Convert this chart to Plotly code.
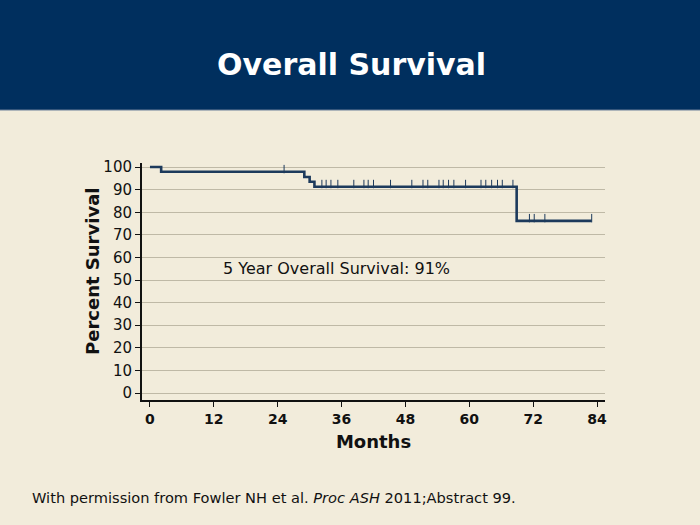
import plotly.graph_objects as go

# Kaplan-Meier step data (months, percent survival)
step_months = [0, 2.1, 29.0, 30.0, 30.9, 68.9, 83.0]
step_surv = [100, 97.9, 95.6, 93.5, 91.3, 76.2, 76.2]

# censor marks
censor_months = [25.2, 32.3, 33.1, 34.0, 35.3, 38.3, 40.2, 41.0, 42.0, 45.2,
                 49.2, 51.3, 52.2, 54.3, 55.1, 56.1, 57.1, 59.3, 62.2, 63.1,
                 64.2, 65.3, 66.2, 68.2, 71.3, 72.2, 74.2, 83.0]
censor_surv = [97.9] + [91.3] * 23 + [76.2] * 4

x_ticks = [0, 12, 24, 36, 48, 60, 72, 84]
y_ticks = [0, 10, 20, 30, 40, 50, 60, 70, 80, 90, 100]

NAVY = "#1d3a5c"
BG = "#f2ecdb"
FONT = "Verdana, DejaVu Sans, sans-serif"

L, R, T, B = 142, 95, 163, 125
PW, PH = 700 - L - R, 525 - T - B


def px_x(px):
    return (px - L) / PW


def px_y(py):
    return (525 - B - py) / PH


fig = go.Figure()
fig.add_trace(go.Scatter(
    x=step_months, y=step_surv, mode="lines",
    line=dict(color=NAVY, width=2.6, shape="hv"),
    hoverinfo="skip", showlegend=False))
fig.add_trace(go.Scatter(
    x=censor_months, y=[v + 1.2 for v in censor_surv], mode="markers",
    marker=dict(symbol="line-ns", size=6, line=dict(color=NAVY, width=1)),
    hoverinfo="skip", showlegend=False))

fig.update_layout(
    width=700, height=525,
    margin=dict(l=L, r=R, t=T, b=B),
    paper_bgcolor=BG, plot_bgcolor=BG,
    font=dict(family=FONT, color="#111111"),
    xaxis=dict(range=[-1.5, 85.5], tickvals=x_ticks,
               ticktext=[f"<b>{v}</b>" for v in x_ticks],
               tickfont=dict(size=14), showgrid=False, zeroline=False,
               showline=True, linecolor="#111111", linewidth=2,
               ticks="outside", ticklen=5, tickcolor="#111111",
               title=dict(text="<b>Months</b>", font=dict(size=18), standoff=10)),
    yaxis=dict(range=[-3.1, 101.8], tickvals=y_ticks,
               tickfont=dict(size=15), showgrid=True, gridcolor="#bfb9a6",
               gridwidth=1, zeroline=False,
               showline=True, linecolor="#111111", linewidth=2,
               ticks="outside", ticklen=5, tickcolor="#111111"),
)

# header band
fig.add_shape(type="rect", xref="paper", yref="paper",
              x0=px_x(0), x1=px_x(700), y0=px_y(110), y1=px_y(0),
              fillcolor="#002f5e", line=dict(width=0), layer="below")
fig.add_shape(type="line", xref="paper", yref="paper",
              x0=px_x(0), x1=px_x(700), y0=px_y(110), y1=px_y(110),
              line=dict(color="#6b7f99", width=1), layer="below")

fig.add_annotation(text="<b>Overall Survival</b>", xref="paper", yref="paper",
                   x=px_x(351), y=px_y(65), showarrow=False,
                   font=dict(size=30, color="white", family=FONT),
                   xanchor="center", yanchor="middle")

fig.add_annotation(text="<b>Percent Survival</b>", xref="paper", yref="paper",
                   x=px_x(92), y=px_y(272), showarrow=False, textangle=-90,
                   font=dict(size=18, family=FONT, color="#111111"),
                   xanchor="center", yanchor="middle")

fig.add_annotation(text="5 Year Overall Survival: 91%", x=35, y=54.9,
                   showarrow=False, font=dict(size=16, family=FONT, color="#111111"),
                   xanchor="center", yanchor="middle")

fig.add_annotation(text="With permission from Fowler NH et al. <i>Proc ASH</i> 2011;Abstract 99.",
                   xref="paper", yref="paper", x=px_x(30), y=px_y(497),
                   showarrow=False, font=dict(size=14.6, family=FONT, color="#111111"),
                   xanchor="left", yanchor="middle")

fig.write_html(
    "out.html",
    config={"displayModeBar": False},
    post_script="document.body.style.margin='0';document.body.style.background='#f2ecdb';",
)
